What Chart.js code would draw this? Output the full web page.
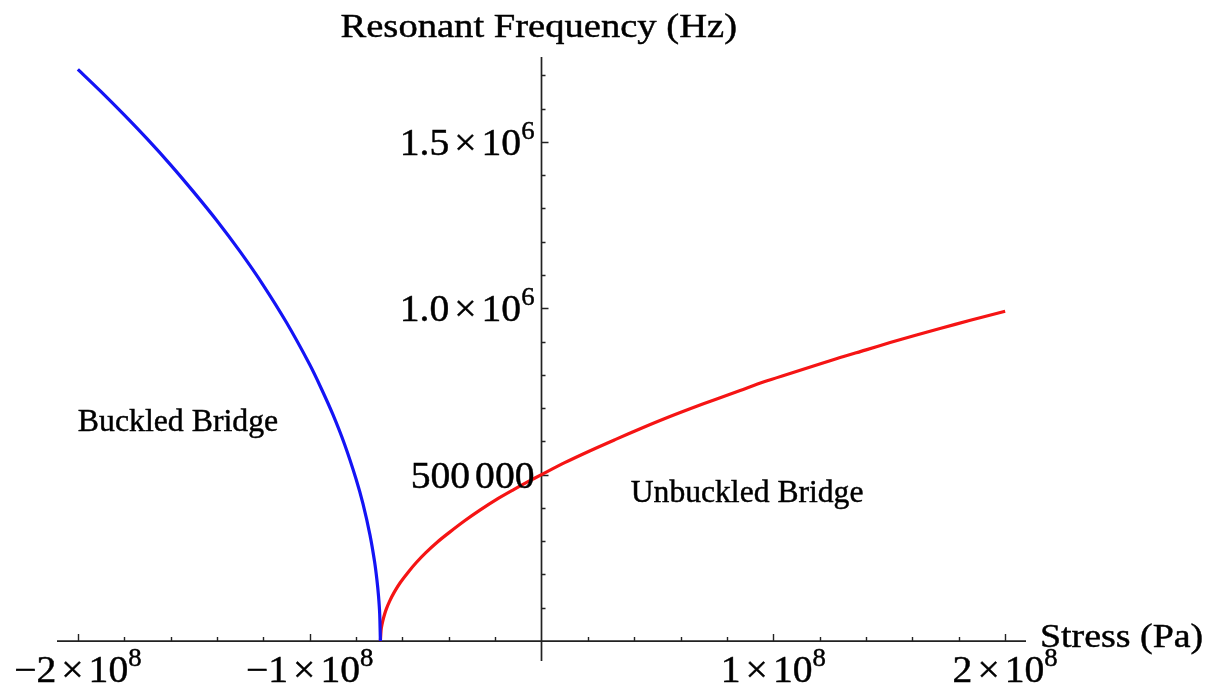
<!DOCTYPE html>
<html>
<head>
<meta charset="utf-8">
<title>Resonant Frequency vs Stress</title>
<script src="https://cdn.jsdelivr.net/npm/chart.js@4.4.0/dist/chart.umd.min.js"></script>
<style>
  html, body { margin: 0; padding: 0; background: #fff; }
  #wrap { width: 1217px; height: 690px; }
</style>
</head>
<body>
<div id="wrap"><canvas id="freqChart"></canvas></div>
<script>
// buckled branch: stress (Pa) and resonant frequency (Hz)
const buckledStress = [-2.00e8, -1.90e8, -1.80e8, -1.70e8, -1.60e8, -1.50e8, -1.40e8, -1.30e8, -1.20e8, -1.10e8, -1.00e8, -0.95e8, -0.90e8, -0.85e8, -0.80e8, -0.77e8, -0.74e8, -0.72e8, -0.71e8, -0.703e8, -0.698e8, -0.695e8];
const buckledFreq   = [1.718e6, 1.651e6, 1.581e6, 1.508e6, 1.431e6, 1.349e6, 1.263e6, 1.170e6, 1.069e6, 0.957e6, 0.831e6, 0.759e6, 0.681e6, 0.592e6, 0.487e6, 0.412e6, 0.319e6, 0.238e6, 0.184e6, 0.135e6, 0.082e6, 0];

// unbuckled branch
const unbuckledStress = [-0.695e8, -0.692e8, -0.688e8, -0.680e8, -0.670e8, -0.655e8, -0.635e8, -0.609e8, -0.575e8, -0.540e8, -0.500e8, -0.450e8, -0.400e8, -0.330e8, -0.264e8, -0.190e8, -0.120e8, -0.060e8, 0,
                         0.100e8, 0.210e8, 0.320e8, 0.426e8, 0.530e8, 0.641e8, 0.750e8, 0.857e8, 0.960e8, 1.072e8, 1.180e8, 1.288e8, 1.400e8, 1.504e8, 1.610e8, 1.719e8, 1.850e8, 2.000e8];
const unbuckledFreq   = [0, 0.033e6, 0.050e6, 0.073e6, 0.095e6, 0.120e6, 0.147e6, 0.176e6, 0.207e6, 0.236e6, 0.265e6, 0.297e6, 0.325e6, 0.362e6, 0.394e6, 0.427e6, 0.455e6, 0.478e6, 0.500e6,
                         0.536e6, 0.572e6, 0.606e6, 0.638e6, 0.668e6, 0.698e6, 0.726e6, 0.753e6, 0.779e6, 0.804e6, 0.828e6, 0.852e6, 0.875e6, 0.897e6, 0.918e6, 0.939e6, 0.964e6, 0.991e6];

// tick labels ('^' starts the exponent)
const xTickValues = [-2e8, -1e8, 1e8, 2e8];
const xTickLabels = ['−2×10^8', '−1×10^8', '1×10^8', '2×10^8'];
const yTickValues = [500000, 1.0e6, 1.5e6];
const yTickLabels = ['500 000', '1.0×10^6', '1.5×10^6'];

const SERIF = '"Liberation Serif", "Times New Roman", serif';

function toPoints(xs, ys) {
  return xs.map((v, i) => ({ x: v, y: ys[i] }));
}

// text widened a little and given a hairline outline so it reads as heavy as the plot's serif face
function wideText(ctx, text, x, y, sx) {
  ctx.save();
  ctx.translate(x, y);
  ctx.scale(sx, 1);
  ctx.fillText(text, 0, 0);
  ctx.lineWidth = 0.45;
  ctx.strokeStyle = ctx.fillStyle;
  ctx.strokeText(text, 0, 0);
  ctx.restore();
}

// draws "a×10^b" style labels; align is 'center' or 'right'
function drawSciLabel(ctx, label, px, baseline, align) {
  const sx = 1.07;
  const parts = label.split('^');
  const baseFont = '37px ' + SERIF;
  const supFont = '25px ' + SERIF;
  const pieces = [];
  if (parts[0].includes('×')) {
    const [m, b] = parts[0].split('×');
    pieces.push({ t: m, f: baseFont, dy: 0, gap: 5 });
    pieces.push({ t: '×', f: baseFont, dy: 0, gap: 5 });
    pieces.push({ t: b, f: baseFont, dy: 0, gap: 0 });
  } else {
    // thin space between digit groups
    const groups = parts[0].split(' ');
    groups.forEach((g, i) => pieces.push({ t: g, f: baseFont, dy: 0, gap: i < groups.length - 1 ? 5 : 0 }));
  }
  if (parts[1]) pieces.push({ t: parts[1], f: supFont, dy: -16, gap: 0 });

  let total = 0;
  pieces.forEach(p => {
    ctx.font = p.f;
    p.w = ctx.measureText(p.t).width * sx;
    total += p.w + p.gap;
  });
  let x = align === 'center' ? px - total / 2 : px - total;
  ctx.textAlign = 'left';
  ctx.textBaseline = 'alphabetic';
  pieces.forEach(p => {
    ctx.font = p.f;
    wideText(ctx, p.t, x, baseline + p.dy, sx);
    x += p.w + p.gap;
  });
}

// axes crossing at the origin, with inward ticks
const crossAxes = {
  id: 'crossAxes',
  beforeDatasetsDraw(chart) {
    const { ctx, scales: { x, y } } = chart;
    const x0 = x.getPixelForValue(0);
    const y0 = y.getPixelForValue(0);
    ctx.save();
    ctx.strokeStyle = '#222';
    ctx.lineWidth = 1.7;
    ctx.beginPath();
    ctx.moveTo(x.left, y0);
    ctx.lineTo(x.right, y0);
    ctx.moveTo(x0, y.top);
    ctx.lineTo(x0, y.bottom);
    ctx.stroke();

    ctx.lineWidth = 1.4;
    ctx.beginPath();
    for (let i = -10; i <= 10; i++) {
      if (i === 0) continue;
      const px = Math.round(x.getPixelForValue(i * 2e7)) + 0.5;
      const len = i % 5 === 0 ? 7 : 4;
      ctx.moveTo(px, y0);
      ctx.lineTo(px, y0 - len);
    }
    for (let i = 1; i <= 17; i++) {
      const py = Math.round(y.getPixelForValue(i * 1e5)) + 0.5;
      const len = i % 5 === 0 ? 7 : 4;
      ctx.moveTo(x0, py);
      ctx.lineTo(x0 + len, py);
    }
    ctx.stroke();
    ctx.restore();
  },
  afterDatasetsDraw(chart) {
    const { ctx, scales: { x, y } } = chart;
    const x0 = x.getPixelForValue(0);
    const y0 = y.getPixelForValue(0);
    ctx.save();
    ctx.fillStyle = '#000';

    xTickValues.forEach((v, i) => {
      drawSciLabel(ctx, xTickLabels[i], x.getPixelForValue(v), y0 + 41, 'center');
    });
    yTickValues.forEach((v, i) => {
      drawSciLabel(ctx, yTickLabels[i], x0 - 7, y.getPixelForValue(v) + 13, 'right');
    });

    ctx.textAlign = 'left';
    ctx.textBaseline = 'alphabetic';
    ctx.font = '34px ' + SERIF;
    wideText(ctx, 'Resonant Frequency (Hz)', x0 - 201, y.top - 20, 1.135);
    wideText(ctx, 'Stress (Pa)', x.right + 14, y0 + 6, 1.115);

    ctx.font = '31px ' + SERIF;
    wideText(ctx, 'Buckled Bridge', x.getPixelForValue(-2e8), y.getPixelForValue(0.63e6), 1.025);
    wideText(ctx, 'Unbuckled Bridge', x.getPixelForValue(0.385e8), y.getPixelForValue(0.417e6), 1.02);
    ctx.restore();
  }
};

const ctx = document.getElementById('freqChart').getContext('2d');
new Chart(ctx, {
  type: 'scatter',
  data: {
    datasets: [
      {
        label: 'Buckled Bridge',
        data: toPoints(buckledStress, buckledFreq),
        borderColor: '#1414f5',
        borderWidth: 3.2,
        showLine: true,
        pointRadius: 0,
        tension: 0.3,
        clip: false
      },
      {
        label: 'Unbuckled Bridge',
        data: toPoints(unbuckledStress, unbuckledFreq),
        borderColor: '#f51414',
        borderWidth: 3.2,
        showLine: true,
        pointRadius: 0,
        tension: 0.3,
        clip: false
      }
    ]
  },
  options: {
    responsive: true,
    maintainAspectRatio: false,
    animation: false,
    layout: { padding: { left: 57, right: 191, top: 57, bottom: 29 } },
    plugins: {
      legend: { display: false },
      tooltip: { enabled: false }
    },
    scales: {
      x: { type: 'linear', min: -2.09e8, max: 2.09e8, display: false },
      y: { type: 'linear', min: -0.06e6, max: 1.755e6, display: false }
    }
  },
  plugins: [crossAxes]
});
</script>
</body>
</html>
